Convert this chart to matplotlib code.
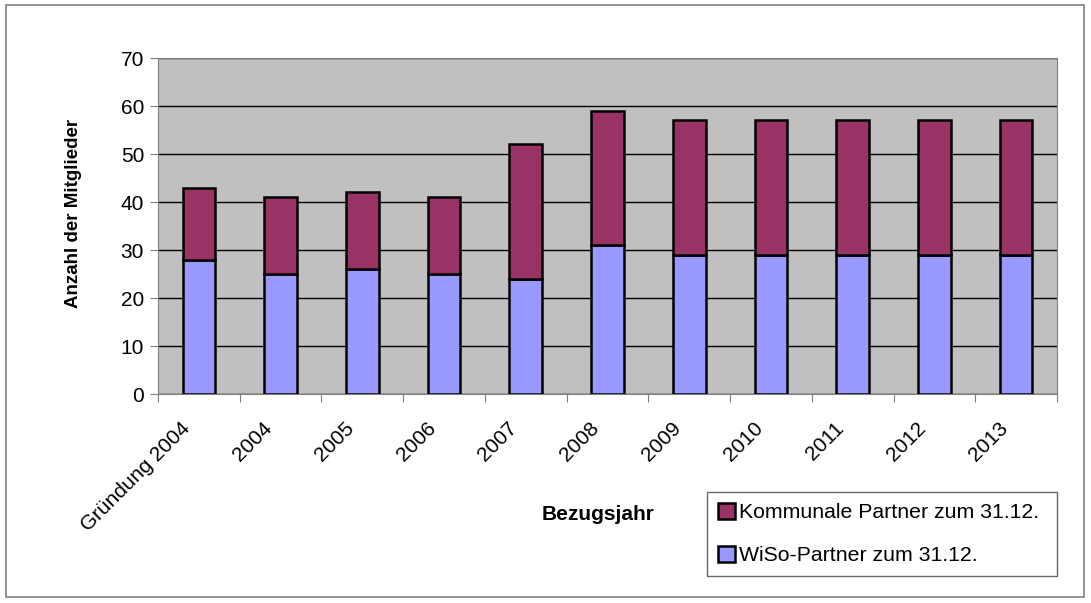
import matplotlib.pyplot as plt
import matplotlib.patches as mpatches
import matplotlib.transforms as mtransforms
import numpy as np

plt.rcParams['font.family'] = ['Liberation Sans', 'DejaVu Sans']

jahre = ['Gründung 2004', '2004', '2005', '2006', '2007', '2008',
         '2009', '2010', '2011', '2012', '2013']
wiso = [28, 25, 26, 25, 24, 31, 29, 29, 29, 29, 29]
kommunal = [15, 16, 16, 16, 28, 28, 28, 28, 28, 28, 28]

fig = plt.figure(figsize=(10.91, 6.03), dpi=100)
ax = fig.add_axes([158/1091, 1-394/603, 899/1091, 336/603])

# aeusserer Rahmen
fig.patches.append(mpatches.Rectangle((6/1091, 6/603), 1078/1091, 592/603,
                                      transform=fig.transFigure, fill=False,
                                      edgecolor='#808080', lw=1.2))

x = np.arange(len(jahre))
ax.set_facecolor('#C0C0C0')
b1 = ax.bar(x, wiso, width=0.4, color='#9999FF', edgecolor='black', lw=1.8, zorder=3)
b2 = ax.bar(x, kommunal, bottom=wiso, width=0.4, color='#993366', edgecolor='black', lw=1.8, zorder=3)

ax.set_xlim(-0.5, len(jahre) - 0.5)
ax.set_ylim(0, 70)
ax.set_yticks(np.arange(0, 71, 10))
ax.yaxis.grid(True, color='black', lw=1, zorder=1)
ax.set_axisbelow(True)

ax.set_xticks(np.arange(-0.5, len(jahre), 1))
ax.set_xticklabels([])
ax.set_xticks(x, minor=True)
ax.set_xticklabels(jahre, minor=True, rotation=45, ha='right', va='top',
                   rotation_mode='anchor', fontsize=15)
ax.tick_params(axis='x', which='minor', length=0, pad=14)
ax.tick_params(axis='x', which='major', length=6, color='#808080', direction='out')
ax.tick_params(axis='y', length=6, color='#808080', labelsize=15, pad=4)

# Beschriftungen etwas nach links unten schieben
shift = mtransforms.ScaledTranslation(-0.18, -0.05, fig.dpi_scale_trans)
for lab in ax.get_xticklabels(minor=True):
    lab.set_transform(lab.get_transform() + shift)

for s in ax.spines.values():
    s.set_color('#808080')

fig.text(73/1091, 1-213/603, 'Anzahl der Mitglieder', fontsize=13.5, fontweight='bold',
         rotation=90, ha='center', va='center')
fig.text(598/1091, 1-515/603, 'Bezugsjahr', fontsize=15, fontweight='bold', ha='center', va='center')

leg = fig.legend([b2, b1], ['Kommunale Partner zum 31.12.', 'WiSo-Partner zum 31.12.'],
                 loc='upper left', bbox_to_anchor=(707/1091, 1-492/603, 350/1091, 0),
                 mode='expand', fontsize=15.3, frameon=True, fancybox=False,
                 handlelength=0.8, handleheight=0.8, handletextpad=0.2,
                 labelspacing=1.1, borderpad=0.5, borderaxespad=0)
leg.get_frame().set_edgecolor('#404040')
leg.get_frame().set_linewidth(1)

fig.savefig('out.png', dpi=100)
